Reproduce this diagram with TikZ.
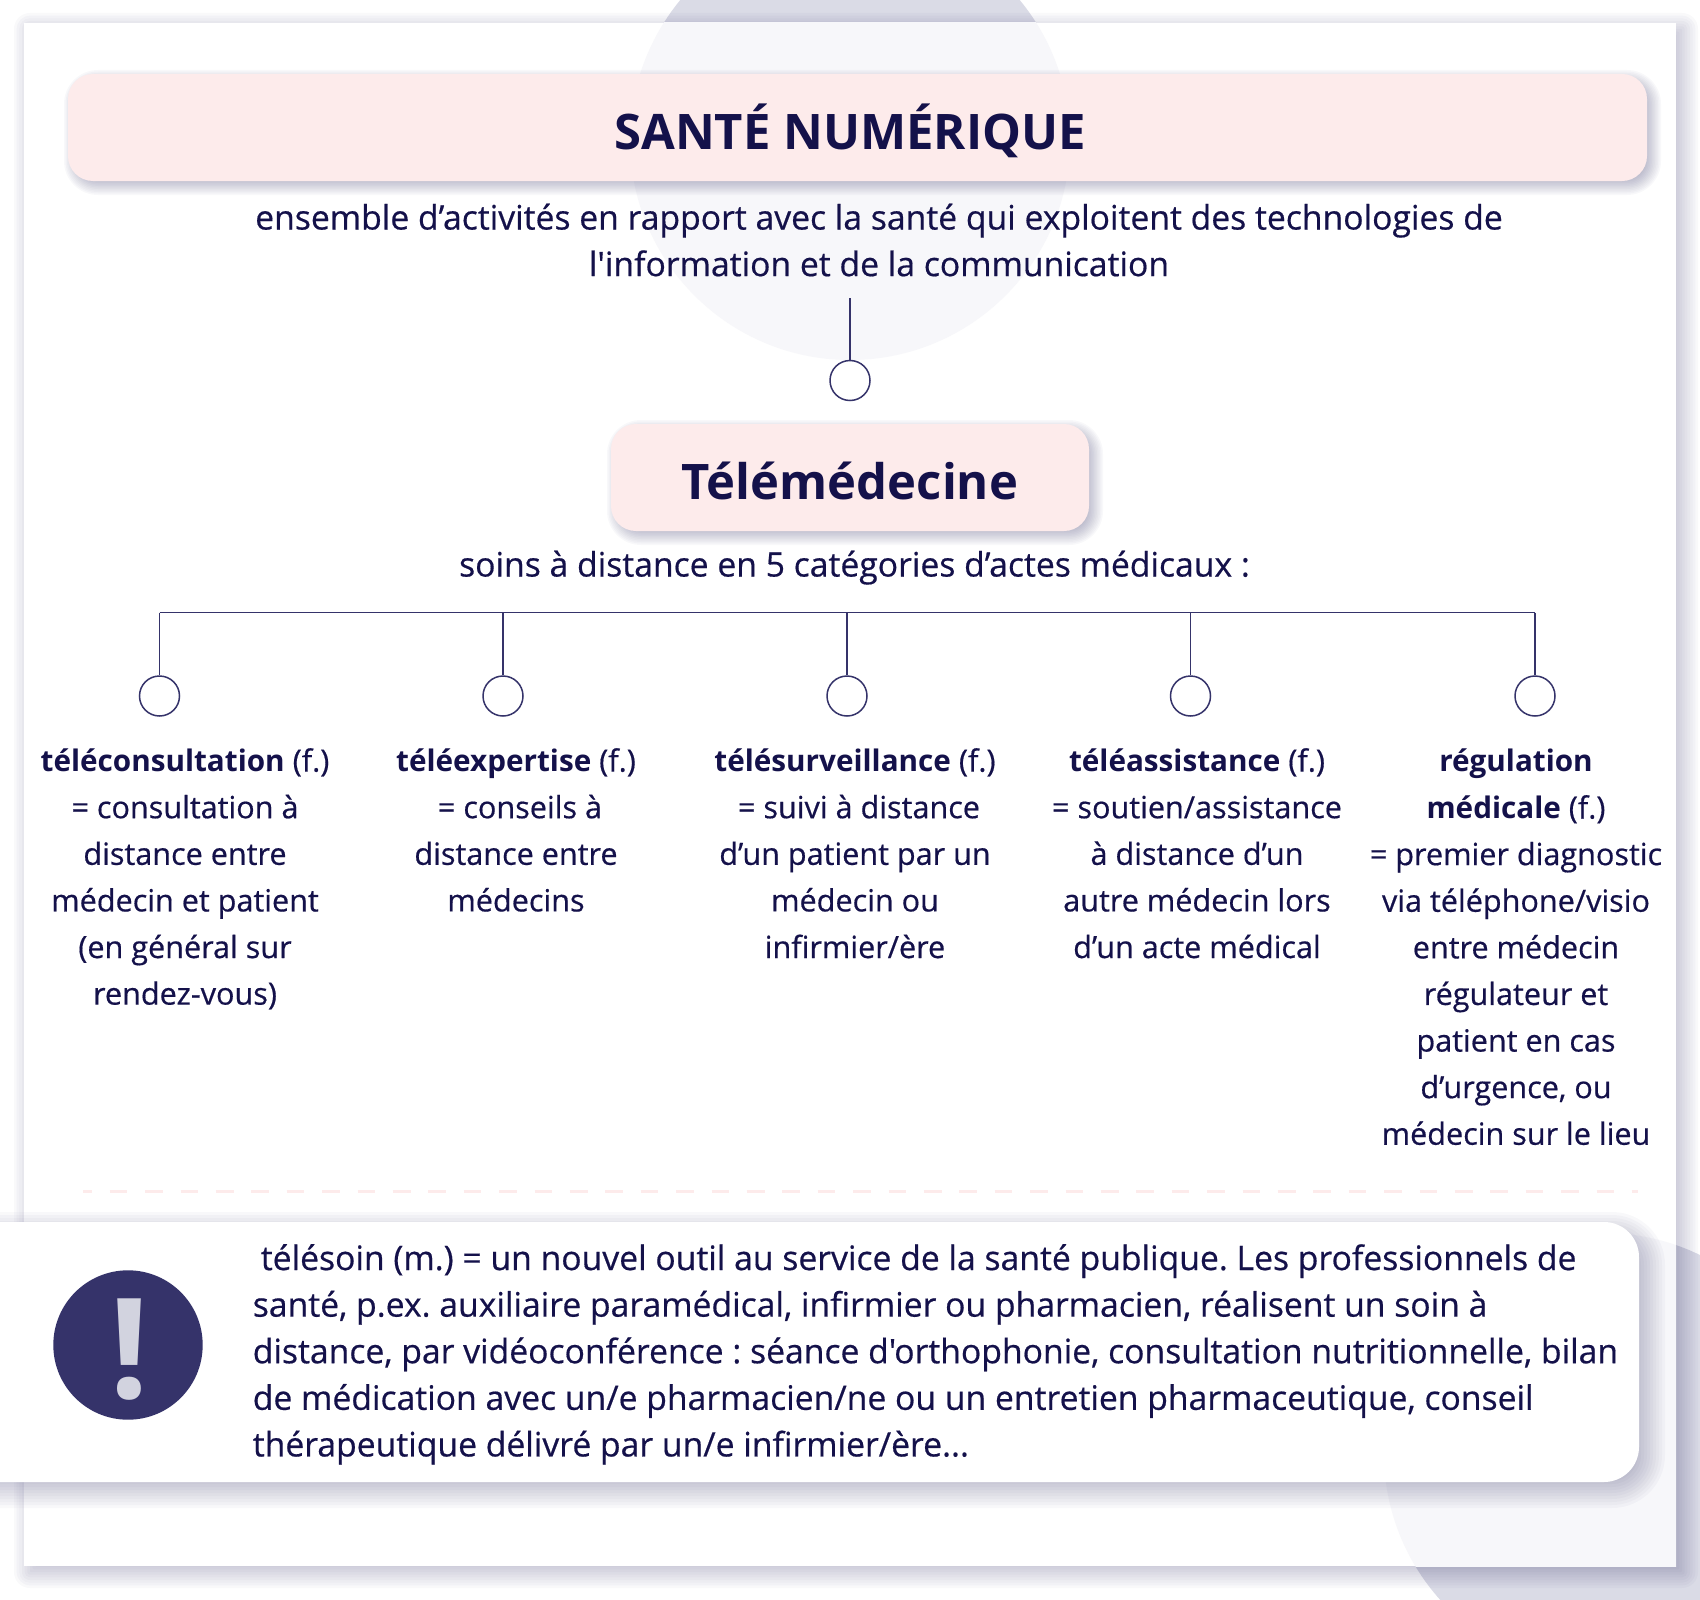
\documentclass[tikz,border=0pt]{standalone}
\usepackage{fontspec}
\setmainfont{Open Sans}[Ligatures=TeXOff, UprightFeatures={FakeBold=0.5}, BoldFeatures={Scale=0.97}]
\definecolor{inkblue}{HTML}{14114A}
\definecolor{linkblue}{HTML}{35336A}
\definecolor{blobgray}{HTML}{DADBE6}
\definecolor{blobpale}{HTML}{F7F7FA}
\definecolor{markgray}{HTML}{D2D3DF}
\definecolor{rosefill}{HTML}{FDEBEB}
\tikzset{
	shadowlayer/.style={fill=linkblue, fill opacity=0.03},
	titlebox/.style={fill=rosefill, rounded corners=25pt, inner sep=0pt, text=inkblue, font=\fontsize{50.5}{58}\selectfont\bfseries},
	link/.style={draw=linkblue, line width=1.5pt},
	bullet/.style={circle, draw=linkblue, line width=1.5pt, minimum size=40pt, inner sep=0pt},
	bodytext/.style={text=inkblue, align=center, inner sep=0pt, anchor=north, font=\frenchspacing\fontsize{33.7}{46.6}\selectfont},
	coltext/.style={bodytext, font=\frenchspacing\fontsize{30.6}{46.6}\selectfont},
}
% soft shadow: left, top, right, bottom, corner radius, offset, spread
\newcommand{\softshadow}[7]{
	\foreach \k in {-6,...,6}
	{	\pgfmathsetmacro{\s}{\k*#7/6}
		\pgfmathsetmacro{\rad}{max(1,#5+\s)}
		\fill[shadowlayer, rounded corners=\rad pt] (#1+#6-\s,#2+#6-\s) rectangle (#3+#6+\s,#4+#6+\s);
		}
	}
\begin{document}
\begin{tikzpicture}
	[x=1pt, y=-1pt]
	\useasboundingbox (0,0) rectangle (1700,1600);
	\fill[blobgray] (850,140) circle (220);
	\fill[blobgray] (1604,1453) circle (220);
	\softshadow{24}{23}{1676}{1566}{0}{6}{16}
	\node[fill=white, minimum width=1652pt, minimum height=1543pt, inner sep=0pt] (panel) at (850,794.5) {};
	\begin{scope}
		\clip (24,23) rectangle (1676,1566);
		\fill[blobpale] (850,140) circle (220);
		\fill[blobpale] (1604,1453) circle (220);
	\end{scope}
	% header
	\softshadow{68}{74}{1647}{181}{25}{5}{9}
	\node[titlebox, minimum width=1579pt, minimum height=107pt] (sante) at (857.5,127.5) {\raisebox{-22pt}[0pt][0pt]{\makebox[0pt]{\hspace*{-15pt}SANTÉ NUMÉRIQUE}}};
	\node[bodytext] (santedef) at (879,203.5) {ensemble d’activités en rapport avec la santé qui exploitent des technologies de\\l'information et de la communication};
	\coordinate (stem) at (850,298);
	\node[bullet] (hub) at (850,380.5) {};
	\draw[link] (stem) -- (hub);
	\softshadow{611}{424}{1089}{531}{25}{5}{9}
	\node[titlebox, minimum width=478pt, minimum height=107pt] (tele) at (850,477.5) {\raisebox{-22pt}[0pt][0pt]{\makebox[0pt]{Télémédecine}}};
	\node[bodytext] (teledef) at (854.5,550.5) {soins à distance en 5 catégories d’actes médicaux :};
	% categories
	\coordinate (busl) at (159.5,612.5);
	\coordinate (busr) at (1535,612.5);
	\draw[link] (busl) -- (busr);
	\foreach \i/\x in {1/159.5, 2/503, 3/847, 4/1190.5, 5/1535}
	{	\node[bullet] (c\i) at (\x,696) {};
		\draw[link] (c\i.north |- busl) -- (c\i);
		}
	\node[coltext] (t1) at (185,748) {\textbf{téléconsultation} (f.)\\= consultation à\\distance entre\\médecin et patient\\(en général sur\\rendez-vous)};
	\node[coltext] (t2) at (516,748) {\textbf{téléexpertise} (f.)\\\hspace*{8pt}= conseils à\\distance entre\\médecins};
	\node[coltext] (t3) at (855,748) {\textbf{télésurveillance} (f.)\\\hspace*{8pt}= suivi à distance\\d’un patient par un\\médecin ou\\infirmier/ère};
	\node[coltext] (t4) at (1197,748) {\textbf{téléassistance} (f.)\\= soutien/assistance\\à distance d’un\\autre médecin lors\\d’un acte médical};
	\node[coltext] (t5) at (1516,749) {\textbf{régulation}\\\textbf{médicale} (f.)\\= premier diagnostic\\via téléphone/visio\\entre médecin\\régulateur et\\patient en cas\\d’urgence, ou\\médecin sur le lieu};
	% separator
	\coordinate (sepl) at (83,1191);
	\coordinate (sepr) at (1638,1191);
	\draw[draw=rosefill, line width=3pt, dash pattern=on 17.7pt off 17.7pt, dash phase=8.7pt] (sepl) -- (sepr);
	% note
	\softshadow{-60}{1222}{1639}{1482}{35}{8}{18}
	\node[fill=white, rounded corners=35pt, minimum width=1699pt, minimum height=260pt, inner sep=0pt] (notebox) at (789.5,1352) {};
	\node[circle, fill=linkblue, text=markgray, minimum size=149.4pt, inner sep=0pt, font=\fontsize{144}{144}\selectfont\bfseries] (alert) at (128,1345) {\raisebox{-53pt}[0pt][0pt]{\hspace*{2pt}!}};
	\node[bodytext, anchor=north west, align=left] (notetext) at (252.6,1244) {\hspace*{8pt}télésoin (m.) = un nouvel outil au service de la santé publique. Les professionnels de\\santé, p.ex. auxiliaire paramédical, infirmier ou pharmacien, réalisent un soin à\\distance, par vidéoconférence : séance d'orthophonie, consultation nutritionnelle, bilan\\de médication avec un/e pharmacien/ne ou un entretien pharmaceutique, conseil\\thérapeutique délivré par un/e infirmier/ère...};
	\end{tikzpicture}
\end{document}
